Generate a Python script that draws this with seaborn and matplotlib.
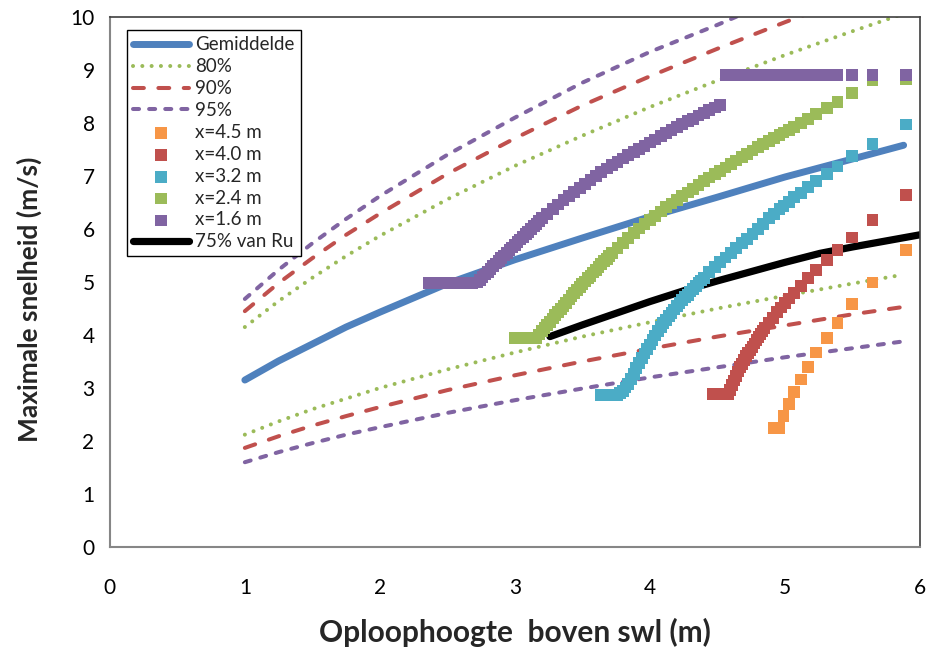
import matplotlib
matplotlib.use("Agg")
import matplotlib.pyplot as plt
from matplotlib.ticker import MultipleLocator
import seaborn as sns

sns.set_theme(style="white")
plt.rcParams["font.family"] = ["Lato", "DejaVu Sans"]

# ---------------- data ----------------
ru_lines = [1.0, 1.25, 1.5, 1.75, 2.0, 2.5, 3.0, 3.5, 4.0, 4.5, 5.0, 5.5, 5.88]
gemiddelde = [3.15, 3.51, 3.83, 4.15, 4.43, 4.97, 5.42, 5.83, 6.23, 6.60, 6.98, 7.32, 7.58]
p80_upper = [4.15, 4.64, 5.08, 5.49, 5.87, 6.56, 7.19, 7.76, 8.30, 8.80, 9.28, 9.73, 10.06]
p80_lower = [2.12, 2.37, 2.60, 2.80, 3.00, 3.35, 3.67, 3.97, 4.24, 4.50, 4.74, 4.97, 5.14]
p90_upper = [4.45, 4.98, 5.45, 5.89, 6.29, 7.04, 7.71, 8.33, 8.88, 9.40, 9.90, 10.38, 10.72]
p90_lower = [1.87, 2.09, 2.29, 2.47, 2.64, 2.96, 3.24, 3.50, 3.74, 3.97, 4.18, 4.39, 4.53]
p95_upper = [4.68, 5.23, 5.73, 6.19, 6.62, 7.40, 8.10, 8.76, 9.34, 9.85, 10.40, 10.92, 11.28]
p95_lower = [1.60, 1.79, 1.96, 2.12, 2.26, 2.53, 2.77, 2.99, 3.20, 3.39, 3.58, 3.75, 3.88]

ru_75 = [3.26, 3.50, 4.00, 4.27, 4.50, 5.00, 5.26, 5.50, 6.00]
v_75 = [3.97, 4.19, 4.63, 4.85, 5.02, 5.37, 5.54, 5.66, 5.89]

x45_ru = [4.92, 4.96, 4.99, 5.03, 5.07, 5.12, 5.17, 5.23, 5.31, 5.39, 5.50, 5.65, 5.90]
x45_v = [2.25, 2.25, 2.47, 2.70, 2.93, 3.16, 3.40, 3.67, 3.94, 4.23, 4.58, 4.99, 5.60]

x40_ru = [4.47, 4.51, 4.55,
          4.58, 4.595, 4.61, 4.625, 4.64, 4.655, 4.67, 4.685, 4.70, 4.715,
          4.73, 4.745, 4.76, 4.775, 4.79, 4.805, 4.82, 4.835, 4.85,
          4.88, 4.91, 4.94, 4.97, 5.00, 5.03, 5.07, 5.12, 5.17, 5.23, 5.31,
          5.39, 5.50, 5.65, 5.90]
x40_v = [2.88, 2.88, 2.88,
         2.88, 2.96, 3.05, 3.14, 3.22, 3.31, 3.39, 3.46, 3.53, 3.60,
         3.66, 3.72, 3.78, 3.84, 3.90, 3.96, 4.02, 4.08, 4.13,
         4.22, 4.32, 4.43, 4.52, 4.60, 4.69, 4.79, 4.93, 5.08, 5.23, 5.41,
         5.60, 5.84, 6.17, 6.64]

x32_ru = [3.64, 3.68, 3.72,
          3.76, 3.78, 3.80, 3.82, 3.84, 3.86, 3.88, 3.90, 3.92, 3.94, 3.96,
          3.98, 4.00, 4.02, 4.04, 4.06, 4.08, 4.10, 4.12, 4.14, 4.16, 4.18,
          4.20, 4.22, 4.24, 4.26, 4.28, 4.30, 4.32, 4.34, 4.36, 4.38, 4.40,
          4.44, 4.48, 4.52, 4.56, 4.60, 4.64, 4.68, 4.72, 4.76, 4.80, 4.84,
          4.88, 4.92,
          4.96, 4.99, 5.03, 5.07, 5.12, 5.17, 5.23, 5.31, 5.39, 5.50, 5.65, 5.90]
x32_v = [2.87, 2.87, 2.87,
         2.87, 2.90, 2.95, 3.01, 3.08, 3.17, 3.27, 3.37, 3.47, 3.56, 3.65,
         3.74, 3.82, 3.91, 3.99, 4.07, 4.15, 4.22, 4.29, 4.36, 4.42, 4.48,
         4.54, 4.60, 4.66, 4.71, 4.76, 4.82, 4.87, 4.93, 4.98, 5.03, 5.08,
         5.19, 5.28, 5.37, 5.46, 5.55, 5.64, 5.73, 5.81, 5.90, 6.00, 6.10,
         6.20, 6.29,
         6.37, 6.43, 6.51, 6.60, 6.68, 6.79, 6.91, 7.04, 7.18, 7.37, 7.60, 7.97]

x24_ru = [3.00, 3.04, 3.08, 3.12,
          3.16, 3.18, 3.20, 3.22, 3.24, 3.26, 3.28, 3.30, 3.32, 3.34, 3.36,
          3.38, 3.40, 3.42, 3.44, 3.46, 3.48, 3.50, 3.52, 3.54, 3.56, 3.58,
          3.60, 3.62, 3.64, 3.66, 3.68, 3.70, 3.72,
          3.76, 3.80, 3.84, 3.88, 3.92, 3.96, 4.00, 4.04, 4.08, 4.12, 4.16,
          4.20, 4.24, 4.28, 4.32, 4.36, 4.40, 4.44, 4.48, 4.52, 4.56, 4.60,
          4.64, 4.68, 4.72, 4.76, 4.80, 4.84, 4.88, 4.92,
          4.96, 4.99, 5.03, 5.07, 5.12, 5.17, 5.23, 5.31, 5.39, 5.50, 5.65, 5.90]
x24_v = [3.94, 3.94, 3.94, 3.94,
         3.95, 4.01, 4.07, 4.13, 4.19, 4.25, 4.31, 4.37, 4.43, 4.49, 4.55,
         4.61, 4.67, 4.73, 4.79, 4.85, 4.90, 4.96, 5.01, 5.07, 5.12, 5.18,
         5.23, 5.29, 5.34, 5.39, 5.44, 5.49, 5.54,
         5.64, 5.74, 5.83, 5.92, 6.01, 6.09, 6.17, 6.25, 6.33, 6.41, 6.48,
         6.55, 6.62, 6.69, 6.76, 6.83, 6.90, 6.97, 7.03, 7.10, 7.16, 7.23,
         7.29, 7.36, 7.42, 7.48, 7.54, 7.60, 7.66, 7.72,
         7.77, 7.82, 7.87, 7.93, 8.00, 8.08, 8.17, 8.28, 8.40, 8.56, 8.80, 8.82]

x16_ru = [2.36, 2.40, 2.44, 2.48, 2.52, 2.56, 2.60, 2.64, 2.68,
          2.72, 2.74, 2.76, 2.78, 2.80, 2.82, 2.84, 2.86, 2.88, 2.90, 2.92,
          2.94, 2.96, 2.98, 3.00, 3.02, 3.04, 3.06, 3.08, 3.10, 3.12, 3.14,
          3.16, 3.18, 3.20,
          3.24, 3.28, 3.32, 3.36, 3.40, 3.44, 3.48, 3.52, 3.56, 3.60, 3.64,
          3.68, 3.72, 3.76, 3.80, 3.84, 3.88, 3.92, 3.96, 4.00, 4.04, 4.08,
          4.12, 4.16, 4.20, 4.24, 4.28, 4.32, 4.36, 4.40, 4.44, 4.48, 4.52,
          4.56, 4.60, 4.64, 4.68, 4.72, 4.76, 4.80, 4.84, 4.88, 4.92, 4.96,
          4.99, 5.03, 5.07, 5.12, 5.17, 5.23, 5.31, 5.39, 5.50, 5.65, 5.90]
x16_v = [4.98, 4.98, 4.98, 4.98, 4.98, 4.98, 4.98, 4.98, 4.98,
         4.99, 5.04, 5.09, 5.14, 5.19, 5.25, 5.30, 5.35, 5.40, 5.45, 5.50,
         5.55, 5.60, 5.65, 5.70, 5.75, 5.80, 5.85, 5.90, 5.95, 6.00, 6.05,
         6.10, 6.15, 6.20,
         6.29, 6.37, 6.46, 6.54, 6.62, 6.70, 6.78, 6.85, 6.93, 7.00, 7.07,
         7.14, 7.21, 7.27, 7.33, 7.39, 7.45, 7.51, 7.57, 7.63, 7.69, 7.75,
         7.81, 7.87, 7.93, 7.98, 8.03, 8.08, 8.14, 8.19, 8.24, 8.29, 8.34,
         8.90, 8.90, 8.90, 8.90, 8.90, 8.90, 8.90, 8.90, 8.90, 8.90, 8.90,
         8.90, 8.90, 8.90, 8.90, 8.90, 8.90, 8.90, 8.90, 8.90, 8.90, 8.90]

# ---------------- style ----------------
C_BLUE = "#4F81BD"
C_RED = "#C0504D"
C_GREEN = "#9BBB59"
C_PURPLE = "#8064A2"
C_CYAN = "#4BACC6"
C_ORANGE = "#F79646"

fig = plt.figure(figsize=(9.31, 6.52), dpi=100)
ax = fig.add_axes([0.118, 0.161, 0.870, 0.813])


def draw_line(x, y, color, lw, ls, label):
    sns.lineplot(x=x, y=y, ax=ax, color=color, linewidth=lw, linestyle=ls,
                 label=label, sort=False, estimator=None)
    ln = ax.lines[-1]
    ln.set_dash_capstyle("round")
    ln.set_solid_capstyle("round")
    return ln


DOT = (0, (0.01, 2.3))
LDASH = (0, (2.7, 3.6))
SDASH = (0, (1.5, 2.5))

draw_line(ru_lines, gemiddelde, C_BLUE, 5.0, "-", "Gemiddelde")
draw_line(ru_lines, p80_upper, C_GREEN, 2.9, DOT, "80%")
draw_line(ru_lines, p80_lower, C_GREEN, 2.9, DOT, "_nolegend_")
draw_line(ru_lines, p90_upper, C_RED, 2.9, LDASH, "90%")
draw_line(ru_lines, p90_lower, C_RED, 2.9, LDASH, "_nolegend_")
draw_line(ru_lines, p95_upper, C_PURPLE, 2.9, SDASH, "95%")
draw_line(ru_lines, p95_lower, C_PURPLE, 2.9, SDASH, "_nolegend_")
draw_line(ru_75, v_75, "black", 5.2, "-", "75% van Ru")

marker_series = [
    (x45_ru, x45_v, C_ORANGE, "x=4.5 m"),
    (x40_ru, x40_v, C_RED, "x=4.0 m"),
    (x32_ru, x32_v, C_CYAN, "x=3.2 m"),
    (x24_ru, x24_v, C_GREEN, "x=2.4 m"),
    (x16_ru, x16_v, C_PURPLE, "x=1.6 m"),
]
for xs, ys, col, lab in marker_series:
    sns.scatterplot(x=xs, y=ys, ax=ax, marker="s", s=72, color=col,
                    linewidth=0, edgecolor="none", label=lab, zorder=3)

ax.set_xlim(0, 6)
ax.set_ylim(0, 10)
ax.xaxis.set_major_locator(MultipleLocator(1))
ax.xaxis.set_minor_locator(MultipleLocator(0.2))
ax.yaxis.set_major_locator(MultipleLocator(1))
ax.yaxis.set_minor_locator(MultipleLocator(0.2))
ax.tick_params(axis="both", which="major", direction="in", length=6, width=1.2,
               color="#868686", labelsize=15, labelcolor="black")
ax.tick_params(axis="both", which="minor", direction="in", length=4, width=1.0,
               color="#868686")
ax.tick_params(axis="x", which="major", pad=22)
ax.tick_params(axis="y", which="major", pad=11)
ax.tick_params(top=False, right=False, which="both")
for side in ["left", "bottom"]:
    ax.spines[side].set_color("#868686")
    ax.spines[side].set_linewidth(1.5)
for side in ["top", "right"]:
    ax.spines[side].set_color("#404040")
    ax.spines[side].set_linewidth(1.2)
ax.grid(False)

ax.set_xlabel("Oploophoogte  boven swl (m)", fontsize=21.5, fontweight="bold",
              va="center")
ax.xaxis.set_label_coords(0.5, -0.162)
ax.set_ylabel("Maximale snelheid (m/s)", fontsize=19, fontweight="bold",
              va="center")
ax.yaxis.set_label_coords(-0.099, 0.468)

handles, labels = ax.get_legend_handles_labels()
order = ["Gemiddelde", "80%", "90%", "95%", "x=4.5 m", "x=4.0 m", "x=3.2 m",
         "x=2.4 m", "x=1.6 m", "75% van Ru"]
hmap = dict(zip(labels, handles))
leg = ax.legend([hmap[k] for k in order], order, loc="upper left",
                bbox_to_anchor=(0.021, 0.975), borderaxespad=0, frameon=True,
                fancybox=False, framealpha=1, edgecolor="black", fontsize=13.5,
                handlelength=3.0, handletextpad=0.33, labelspacing=0.26,
                borderpad=0.33, scatterpoints=1)
leg.get_frame().set_linewidth(1.0)

fig.savefig("out.png", dpi=100)
